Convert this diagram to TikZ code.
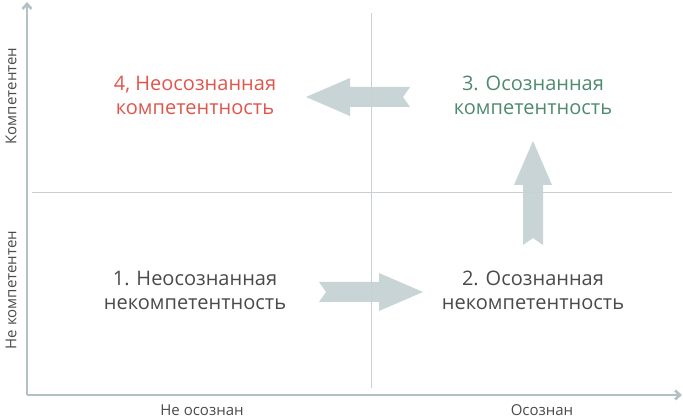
\documentclass[tikz,border=0pt]{standalone}
\usepackage{fontspec}
\setmainfont{Open Sans}
\usepackage{tikz}
\usetikzlibrary{arrows.meta}

\definecolor{axisgray}{HTML}{B3C0C4}
\definecolor{gridgray}{HTML}{C9D0D3}
\definecolor{arrowgray}{HTML}{C6D2D5}
\definecolor{txtgray}{HTML}{4A4A4A}
\definecolor{stagered}{HTML}{E0564D}
\definecolor{stagegreen}{HTML}{4E8B6E}

\tikzset{
    stage/.style={align=center, font=\fontsize{20}{24}\selectfont},
    axislabel/.style={text=txtgray, font=\fontsize{15}{18}\selectfont},
    pics/fatarrow/.style={code={
        \fill[arrowgray, opacity=0.95] (0,0) -- (-44,19) -- (-44,10) -- (-104,10)
            -- (-97,0) -- (-104,-10) -- (-44,-10) -- (-44,-19) -- cycle;
    }}
}

\begin{document}
\begin{tikzpicture}[x=1pt, y=-1pt]
    \useasboundingbox (0,0) rectangle (683,419);
    % quadrant lines
    \draw[gridgray, line width=1pt] 
    (371,13) to (371,388)
    (32,193) to (672,193);
    % axes
    \draw[axisgray, line width=2.6pt, -{Straight Barb[length=5pt, width=9pt]}] (27,395) to (27,2);
    \draw[axisgray, line width=2.6pt, -{Straight Barb[length=5pt, width=9pt]}] (27,395) to (682,395);
    % stages
    \node[stage, text=stagered] (q4) at (195,95) {4, Неосознанная\\компетентность};
    \node[stage, text=stagegreen] (q3) at (533,95) {3. Осознанная\\компетентность};
    \node[stage, text=txtgray] (q1) at (195,290) {1. Неосознанная\\некомпетентность};
    \node[stage, text=txtgray] (q2) at (533,290) {2. Осознанная\\некомпетентность};
    % axis labels
    \node[axislabel] (xlo) at (202,410) {Не осознан};
    \node[axislabel] (xhi) at (542,410) {Осознан};
    \node[axislabel, rotate=90] (yhi) at (11,96) {Компетентен};
    \node[axislabel, rotate=90] (ylo) at (11,290) {Не компетентен};
    % transitions
    \pic at (423,292) {fatarrow};
    \pic[rotate=90] at (533,141) {fatarrow};
    \pic[rotate=180] at (306,97) {fatarrow};
\end{tikzpicture}
\end{document}
